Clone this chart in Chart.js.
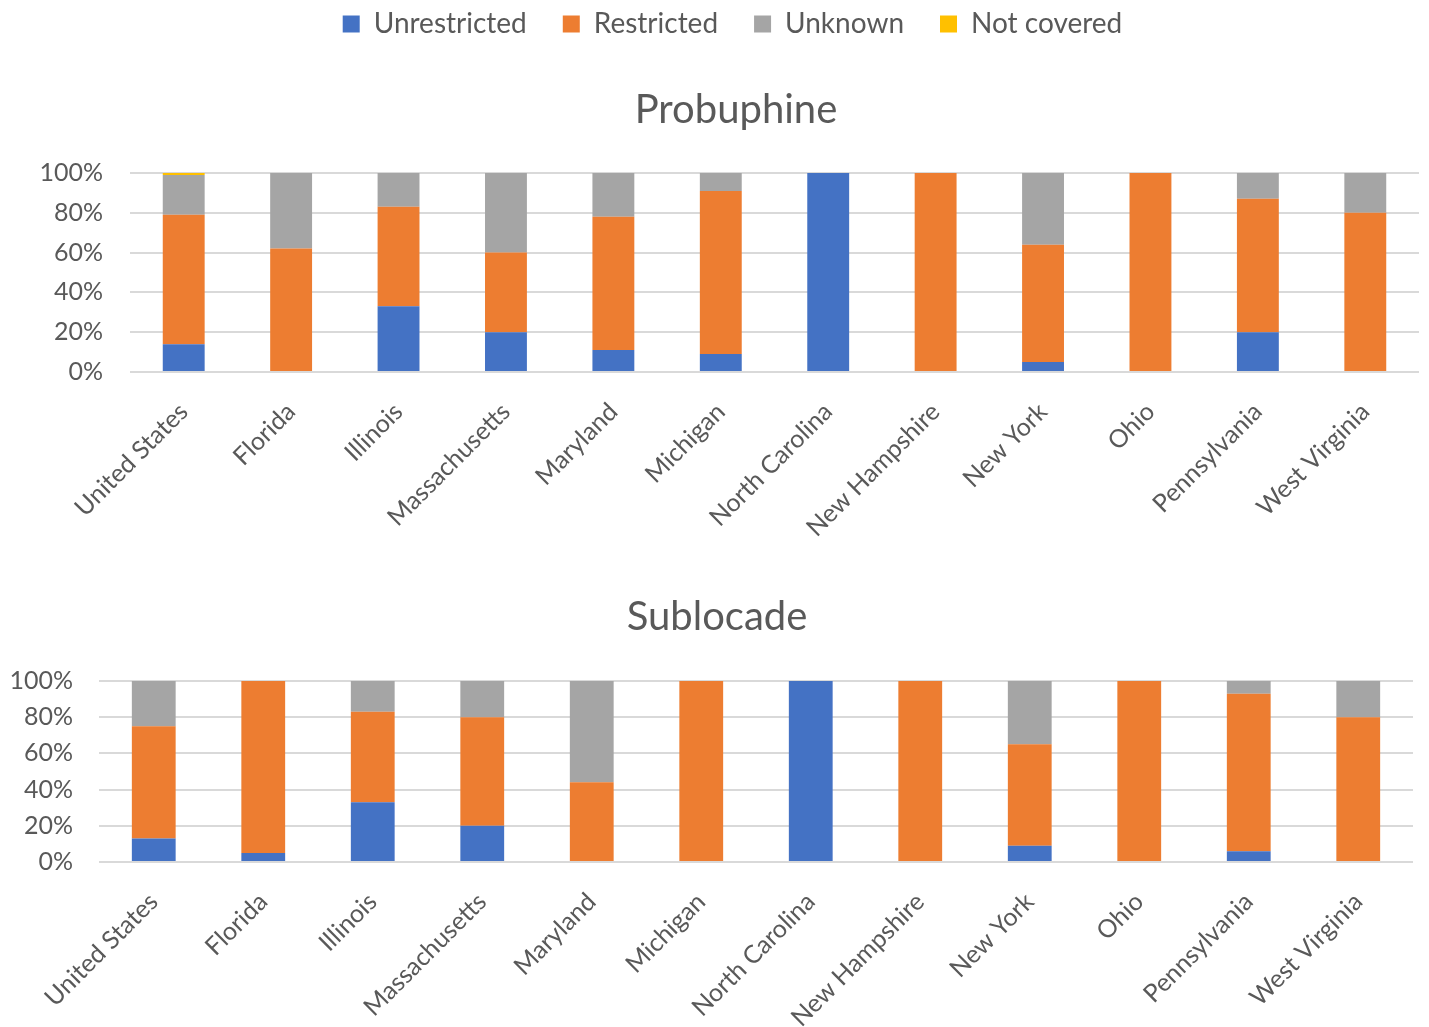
<!DOCTYPE html>
<html>
<head>
<meta charset="utf-8">
<script src="https://cdn.jsdelivr.net/npm/chart.js@4.4.1/dist/chart.umd.min.js"></script>
<style>
  html, body { margin: 0; padding: 0; background: #ffffff; }
  body { width: 1429px; height: 1027px; position: relative; overflow: hidden; }
  .box { position: absolute; left: 0; width: 1429px; }
  #b1 { top: 0; height: 560px; }
  #b2 { top: 560px; height: 467px; }
</style>
</head>
<body>
<div class="box" id="b1"><canvas id="c1"></canvas></div>
<div class="box" id="b2"><canvas id="c2"></canvas></div>
<script>
const categories = ["United States", "Florida", "Illinois", "Massachusetts", "Maryland", "Michigan", "North Carolina", "New Hampshire", "New York", "Ohio", "Pennsylvania", "West Virginia"];
const seriesNames = ["Unrestricted", "Restricted", "Unknown", "Not covered"];
const seriesColors = ["#4472C4", "#ED7D31", "#A5A5A5", "#FFC000"];

// Probuphine (percent)
const probUnrestricted = [14, 0, 33, 20, 11, 9, 100, 0, 5, 0, 20, 0];
const probRestricted   = [65, 62, 50, 40, 67, 82, 0, 100, 59, 100, 67, 80];
const probUnknown      = [20, 38, 17, 40, 22, 9, 0, 0, 36, 0, 13, 20];
const probNotCovered   = [1, 0, 0, 0, 0, 0, 0, 0, 0, 0, 0, 0];

// Sublocade (percent)
const subUnrestricted = [13, 5, 33, 20, 0, 0, 100, 0, 9, 0, 6, 0];
const subRestricted   = [62, 95, 50, 60, 44, 100, 0, 100, 56, 100, 87, 80];
const subUnknown      = [25, 0, 17, 20, 56, 0, 0, 0, 35, 0, 7, 20];
const subNotCovered   = [0, 0, 0, 0, 0, 0, 0, 0, 0, 0, 0, 0];

const yTicks = [0, 20, 40, 60, 80, 100];

const FONT = "Lato, 'Open Sans', sans-serif";
const TXT = "#595959";
const GRID = "#d9d9d9";

// shifts the centred title / legend horizontally after layout
const shiftPlugin = {
  id: 'shiftBoxes',
  afterLayout(chart, args, opts) {
    if (chart.titleBlock && opts.title) {
      chart.titleBlock.left += opts.title;
      chart.titleBlock.right += opts.title;
    }
    if (chart.legend && opts.legend) {
      chart.legend.left += opts.legend;
      chart.legend.right += opts.legend;
    }
  }
};

function makeDatasets(arrs, barPct) {
  return arrs.map((d, i) => ({
    label: seriesNames[i],
    data: d,
    backgroundColor: seriesColors[i],
    borderWidth: 0,
    barPercentage: barPct,
    categoryPercentage: 1.0
  }));
}

function makeChart(id, title, arrs, opts) {
  return new Chart(document.getElementById(id), {
    type: 'bar',
    data: { labels: categories, datasets: makeDatasets(arrs, opts.barPct) },
    plugins: [shiftPlugin],
    options: {
      responsive: true,
      maintainAspectRatio: false,
      animation: false,
      layout: { padding: opts.padding },
      plugins: {
        shiftBoxes: opts.shift,
        legend: {
          display: opts.legend,
          position: 'top',
          weight: 3000,
          labels: {
            font: { family: FONT, size: 28 },
            color: TXT,
            boxWidth: 17,
            boxHeight: 17,
            padding: 36
          }
        },
        title: {
          display: true,
          text: title,
          font: { family: FONT, size: 40, weight: 'normal' },
          color: TXT,
          padding: opts.titlePad
        },
        tooltip: { enabled: false }
      },
      scales: {
        x: {
          stacked: true,
          grid: { display: false, drawTicks: false },
          border: { display: false },
          ticks: {
            font: { family: FONT, size: 25 },
            color: TXT,
            maxRotation: 45,
            minRotation: 45,
            autoSkip: false,
            padding: 25
          },
          afterFit: (ax) => { ax.height = opts.xHeight; }
        },
        y: {
          stacked: true,
          min: 0,
          max: 100,
          afterBuildTicks: (ax) => { ax.ticks = yTicks.map(v => ({ value: v })); },
          grid: { color: GRID, lineWidth: 2, drawTicks: false },
          border: { display: false },
          ticks: {
            font: { family: FONT, size: 25 },
            color: TXT,
            padding: opts.yPad,
            callback: (v) => v + '%'
          },
          afterFit: (ax) => { ax.width = opts.yWidth; }
        }
      }
    }
  });
}

makeChart('c1', 'Probuphine',
  [probUnrestricted, probRestricted, probUnknown, probNotCovered],
  { barPct: 0.39, legend: true, padding: { top: -26, right: 10, left: 0, bottom: 0 },
    titlePad: { top: 38, bottom: 39 }, xHeight: 188, yWidth: 130, yPad: 27,
    shift: { title: 26.5, legend: 23 } });

makeChart('c2', 'Sublocade',
  [subUnrestricted, subRestricted, subUnknown, subNotCovered],
  { barPct: 0.40, legend: false, padding: { top: 0, right: 16, left: 0, bottom: 0 },
    titlePad: { top: 33, bottom: 40 }, xHeight: 165, yWidth: 99, yPad: 26,
    shift: { title: 10.5, legend: 0 } });
</script>
</body>
</html>
